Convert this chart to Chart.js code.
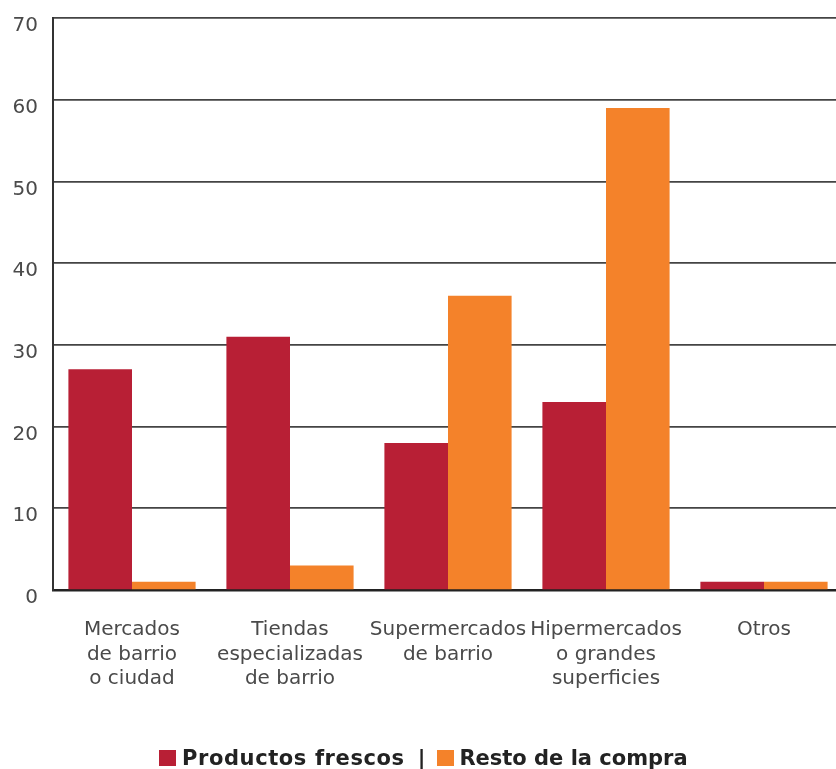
<!DOCTYPE html>
<html>
<head>
<meta charset="utf-8">
<script src="https://cdn.jsdelivr.net/npm/chart.js@4/dist/chart.umd.min.js"></script>
<style>
  html, body { margin: 0; padding: 0; background: #fff; width: 836px; height: 769px; overflow: hidden; }
  #wrap { position: absolute; left: 0; top: 0; width: 844px; height: 769px; }
  #legend {
    position: absolute; left: 159px; top: 746px; height: 24px;
    display: flex; align-items: center; white-space: nowrap;
    font: bold 21px "DejaVu Sans"; line-height: 24px; color: #222;
  }
  #legend .box { display: inline-block; width: 17px; height: 16px; }
</style>
</head>
<body>
<div id="wrap"><canvas id="chart" width="844" height="769"></canvas></div>
<div id="legend"></div>
<script>
// Lugar de compra: porcentaje de hogares
const categories = [
  ["Mercados", "de barrio", "o ciudad"],
  ["Tiendas", "especializadas", "de barrio"],
  ["Supermercados", "de barrio"],
  ["Hipermercados", "o grandes", "superficies"],
  ["Otros"]
];
const seriesNames = ["Productos frescos", "Resto de la compra"];
const productosFrescos = [27, 31, 18, 23, 1];
const restoCompra = [1, 3, 36, 59, 1];
const yMin = 0;
const yMax = 70;
const yStep = 10;

const RED = '#B81F35';
const ORANGE = '#F4822A';
const TEXT = '#4a4a4a';
const GRID = '#444444';

const chart = new Chart(document.getElementById('chart'), {
  type: 'bar',
  data: {
    labels: categories,
    datasets: [
      { label: seriesNames[0], data: productosFrescos, backgroundColor: RED, borderWidth: 0 },
      { label: seriesNames[1], data: restoCompra, backgroundColor: ORANGE, borderWidth: 0 }
    ]
  },
  options: {
    responsive: false,
    animation: false,
    events: [],
    layout: { padding: { top: 18, right: 1, left: 0, bottom: 32 } },
    datasets: { bar: { barPercentage: 1.0, categoryPercentage: 0.805 } },
    scales: {
      x: {
        grid: { display: false, drawTicks: false },
        border: { display: true, color: '#222', width: 2.5 },
        ticks: {
          color: TEXT,
          padding: 28,
          maxRotation: 0,
          autoSkip: false,
          font: { family: 'DejaVu Sans', size: 20, lineHeight: 1.22 }
        },
        afterFit(scale) { scale.height = 147; }
      },
      y: {
        min: yMin,
        max: yMax,
        grid: { color: GRID, lineWidth: 1.7, drawTicks: false },
        border: { display: true, color: '#333', width: 2 },
        ticks: {
          stepSize: yStep,
          color: TEXT,
          padding: 15,
          labelOffset: 8,
          font: { family: 'DejaVu Sans', size: 20 }
        },
        afterFit(scale) {
          scale.width = 53;
          scale.paddingTop = 0;
          scale.paddingBottom = 0;
        }
      }
    },
    plugins: {
      tooltip: { enabled: false },
      legend: { display: false }
    }
  }
});

// Legend: series swatches with a bar separator between them
const legend = document.getElementById('legend');
const itemStyle = [
  { boxGap: 6, tracking: '0.6px' },
  { boxGap: 5, tracking: '0px' }
];
chart.data.datasets.forEach((ds, i) => {
  if (i > 0) {
    const sep = document.createElement('span');
    sep.textContent = '|';
    sep.style.margin = '0 12px 0 13px';
    legend.appendChild(sep);
  }
  const box = document.createElement('span');
  box.className = 'box';
  box.style.background = ds.backgroundColor;
  box.style.marginRight = itemStyle[i].boxGap + 'px';
  legend.appendChild(box);
  const txt = document.createElement('span');
  txt.textContent = ds.label;
  txt.style.letterSpacing = itemStyle[i].tracking;
  legend.appendChild(txt);
});
</script>
</body>
</html>
